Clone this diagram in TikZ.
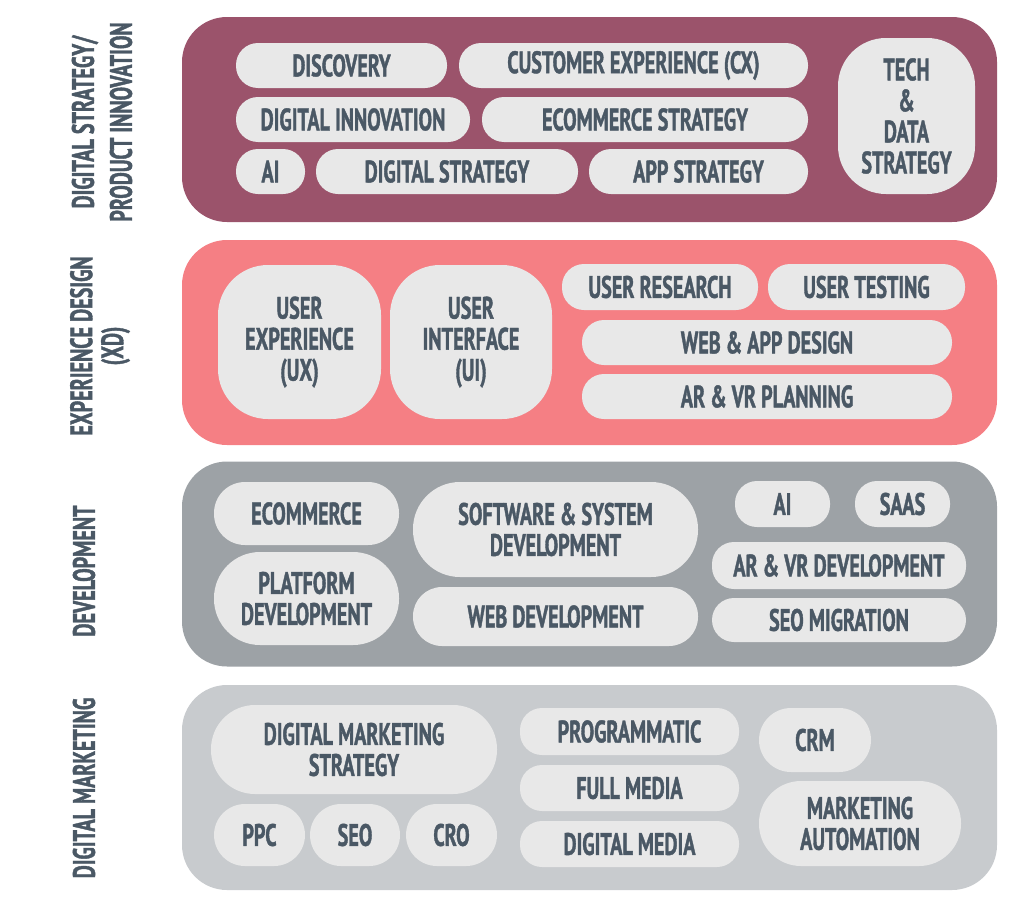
\documentclass[tikz,border=0pt]{standalone}
\usepackage{fontspec}
\newfontfamily\pillfont[FakeStretch=0.65, FakeBold=1.2]{PT Sans Bold}
\definecolor{stratcol}{HTML}{9B536B}
\definecolor{xdcol}{HTML}{F57F84}
\definecolor{devcol}{HTML}{9DA2A6}
\definecolor{mktcol}{HTML}{C8CBCE}
\definecolor{pillcol}{HTML}{E8E8E8}
\definecolor{inkcol}{HTML}{4A5865}
\tikzset{
  band/.style={fill=#1, rounded corners=45pt, inner sep=0pt, minimum width=815pt, minimum height=205pt},
  pill/.style 2 args={fill=pillcol, rounded corners=22pt, inner sep=0pt, text=inkcol, align=center,
    font=\pillfont\fontsize{31}{31}\selectfont, minimum width=#1pt, minimum height=#2pt},
  tag/.style={rotate=90, text=inkcol, align=center, font=\pillfont\fontsize{31}{31}\selectfont}
}
\begin{document}
\begin{tikzpicture}[x=1pt, y=-1pt]
\useasboundingbox (0,0) rectangle (1024,910);
% bands
\node[band=stratcol] (strat) at (589.5,119.5) {};
\node[band=xdcol] (xd) at (589.5,342.5) {};
\node[band=devcol] (dev) at (589.5,564) {};
\node[band=mktcol] (mkt) at (589.5,787.5) {};
% side labels
\node[tag] (strattag) at (102,122) {DIGITAL STRATEGY/\\[7pt]PRODUCT INNOVATION};
\node[tag] (xdtag) at (100,346) {EXPERIENCE DESIGN\\(XD)};
\node[tag] (devtag) at (84,571) {DEVELOPMENT};
\node[tag] (mkttag) at (84,788) {DIGITAL MARKETING};
% digital strategy
\node[pill={211}{45}] (disc) at (341.5,65.5) {DISCOVERY};
\node[pill={349}{45}] (cx) at (633.5,65.5) {CUSTOMER EXPERIENCE (CX)};
\node[pill={234}{45}] (dinno) at (353,119.5) {DIGITAL INNOVATION};
\node[pill={326}{45}] (ecomstrat) at (645,119.5) {ECOMMERCE STRATEGY};
\node[pill={69}{45}] (aistrat) at (270.5,171.5) {AI};
\node[pill={262}{45}] (dstrat) at (447,171.5) {DIGITAL STRATEGY};
\node[pill={219}{45}] (appstrat) at (698.5,171.5) {APP STRATEGY};
\node[pill={137}{156}, rounded corners=48pt] (tech) at (906.5,116) {TECH\\\&\\DATA\\STRATEGY};
% experience design
\node[pill={163}{154}, rounded corners=50pt] (ux) at (299.5,342) {USER\\EXPERIENCE\\(UX)};
\node[pill={162}{154}, rounded corners=50pt] (ui) at (471,342) {USER\\INTERFACE\\(UI)};
\node[pill={196}{46}] (ures) at (660,287) {USER RESEARCH};
\node[pill={197}{46}] (utest) at (866.5,287) {USER TESTING};
\node[pill={370}{45}] (webapp) at (767,342.5) {WEB \& APP DESIGN};
\node[pill={370}{45}] (arvr) at (767,396.5) {AR \& VR PLANNING};
% development
\node[pill={185}{63}, rounded corners=31pt] (ecom) at (306.5,513.5) {ECOMMERCE};
\node[pill={185}{93}, rounded corners=46pt] (platform) at (306.5,598.5) {PLATFORM\\DEVELOPMENT};
\node[pill={285}{95}, rounded corners=47pt] (software) at (555.5,529.5) {SOFTWARE \& SYSTEM\\DEVELOPMENT};
\node[pill={285}{59}, rounded corners=29pt] (webdev) at (555.5,616.5) {WEB DEVELOPMENT};
\node[pill={95}{46}] (aidev) at (782.5,504) {AI};
\node[pill={95}{46}] (saas) at (902.5,504) {SAAS};
\node[pill={254}{47}] (arvrdev) at (839,565.5) {AR \& VR DEVELOPMENT};
\node[pill={254}{44}] (seomig) at (839,620) {SEO MIGRATION};
% digital marketing
\node[pill={286}{89}, rounded corners=44pt] (dmstrat) at (354,749.5) {DIGITAL MARKETING\\STRATEGY};
\node[pill={91}{62}, rounded corners=31pt] (ppc) at (259.5,835) {PPC};
\node[pill={90}{62}, rounded corners=31pt] (seo) at (355,835) {SEO};
\node[pill={91}{62}, rounded corners=31pt] (cro) at (451.5,835) {CRO};
\node[pill={219}{47}] (prog) at (629.5,731.5) {PROGRAMMATIC};
\node[pill={219}{46}] (fullmedia) at (629.5,788) {FULL MEDIA};
\node[pill={219}{46}] (digmedia) at (629.5,844) {DIGITAL MEDIA};
\node[pill={112}{64}, rounded corners=32pt] (crm) at (815,740) {CRM};
\node[pill={202}{85}, rounded corners=42pt] (mauto) at (860,823.5) {MARKETING\\AUTOMATION};
\end{tikzpicture}
\end{document}
